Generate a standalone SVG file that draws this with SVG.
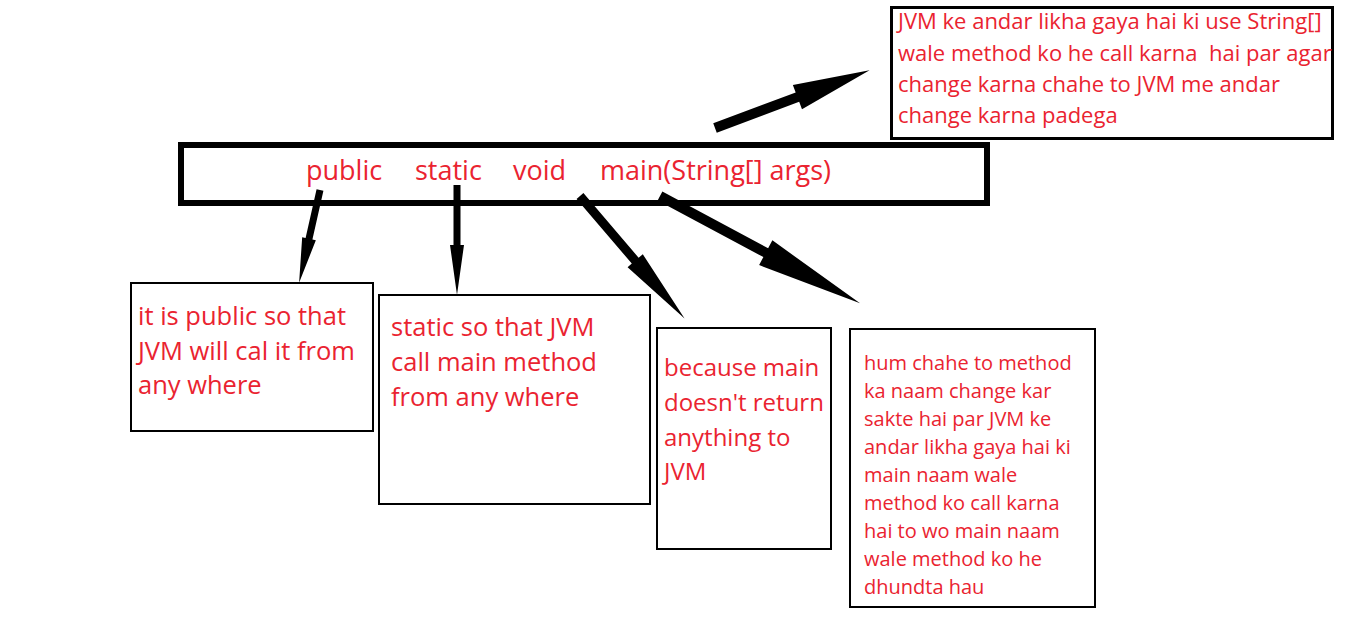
<svg xmlns="http://www.w3.org/2000/svg" width="1350" height="629" viewBox="0 0 1350 629">
<style>
.t{font-family:"Open Sans","Noto Sans",sans-serif;fill:#ea2330}
.box{fill:#fff;stroke:#000}
.arr{fill:#000}
</style>
<rect width="1350" height="629" fill="#fff"/>
<g id="signature">
<rect class="box" x="181" y="145" width="806" height="58" stroke-width="6"/>
<text class="t" font-size="27" y="180"><tspan x="306">public</tspan><tspan x="415">static</tspan><tspan x="513">void</tspan><tspan x="600">main(String[] args)</tspan></text>
</g>
<g id="note-jvm">
<rect class="box" x="891.5" y="7.5" width="441" height="131" stroke-width="3"/>
<text class="t" font-size="22" xml:space="preserve"><tspan x="898" y="29">JVM ke andar likha gaya hai ki use String[]</tspan><tspan x="898" y="61">wale method ko he call karna  hai par agar</tspan><tspan x="898" y="92">change karna chahe to JVM me andar</tspan><tspan x="898" y="123">change karna padega</tspan></text>
</g>
<g id="note-public">
<rect class="box" x="131" y="283" width="242" height="148" stroke-width="2"/>
<text class="t" font-size="25.5"><tspan x="138" y="325">it is public so that</tspan><tspan x="138" y="360">JVM will cal it from</tspan><tspan x="138" y="394">any where</tspan></text>
</g>
<g id="note-static">
<rect class="box" x="379" y="295" width="271" height="209" stroke-width="2"/>
<text class="t" font-size="25.5"><tspan x="391" y="336">static so that JVM</tspan><tspan x="391" y="371">call main method</tspan><tspan x="391" y="406">from any where</tspan></text>
</g>
<g id="note-void">
<rect class="box" x="657" y="328" width="174" height="221" stroke-width="2"/>
<text class="t" font-size="24"><tspan x="664" y="376">because main</tspan><tspan x="664" y="411">doesn't return</tspan><tspan x="664" y="446">anything to</tspan><tspan x="664" y="480">JVM</tspan></text>
</g>
<g id="note-main">
<rect class="box" x="850" y="329" width="245" height="278" stroke-width="2"/>
<text class="t" font-size="20"><tspan x="864" y="370">hum chahe to method</tspan><tspan x="864" y="398">ka naam change kar</tspan><tspan x="864" y="426">sakte hai par JVM ke</tspan><tspan x="864" y="454">andar likha gaya hai ki</tspan><tspan x="864" y="482">main naam wale</tspan><tspan x="864" y="510">method ko call karna</tspan><tspan x="864" y="538">hai to wo main naam</tspan><tspan x="864" y="566">wale method ko he</tspan><tspan x="864" y="594">dhundta hau</tspan></text>
</g>
<g id="connectors">
<path class="arr" transform="translate(715,128) rotate(-20.5)" d="M0,-5 L88,-5 L88,-13 L165,0 L88,13 L88,5 L0,5 Z"/>
<path class="arr" transform="translate(320,190) rotate(102.7)" d="M0,-3.5 L50,-3.5 L50,-7 L95,0 L50,7 L50,3.5 L0,3.5 Z"/>
<path class="arr" transform="translate(457,185) rotate(90)" d="M0,-3.5 L60,-3.5 L60,-7 L110,0 L60,7 L60,3.5 L0,3.5 Z"/>
<path class="arr" transform="translate(580,196) rotate(49.5)" d="M0,-4.5 L85,-4.5 L85,-10 L161,0 L85,10 L85,4.5 L0,4.5 Z"/>
<path class="arr" transform="translate(660,196) rotate(28.2)" d="M0,-5 L120,-5 L120,-14 L227,0 L120,14 L120,5 L0,5 Z"/>
</g>
</svg>
